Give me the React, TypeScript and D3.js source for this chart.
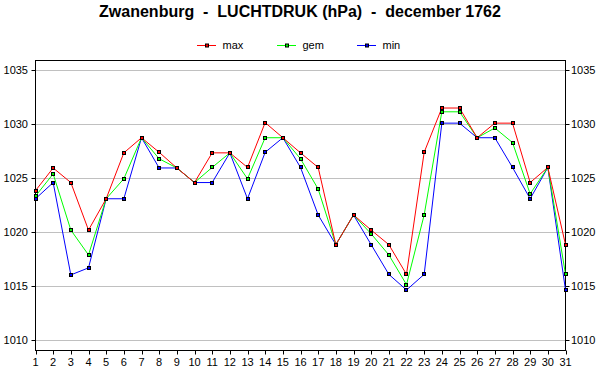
import React from "react";
import * as d3 from "d3";

const days = d3.range(1, 32);
const maxVals = [1023.85, 1025.95, 1024.6, 1020.2, 1023.1, 1027.35, 1028.75, 1027.4, 1025.95, 1024.6, 1027.35, 1027.35, 1026.0, 1030.15, 1028.75, 1027.35, 1026.0, 1018.85, 1021.6, 1020.2, 1018.85, 1016.1, 1027.4, 1031.5, 1031.5, 1028.75, 1030.1, 1030.1, 1024.6, 1026.0, 1018.85];
const gemVals = [1023.35, 1025.4, 1020.2, 1017.9, 1023.1, 1024.95, 1028.75, 1026.8, 1025.95, 1024.6, 1026.0, 1027.35, 1024.95, 1028.75, 1028.75, 1026.8, 1024.0, 1018.85, 1021.6, 1019.85, 1017.9, 1015.15, 1021.6, 1031.15, 1031.15, 1028.75, 1029.65, 1028.3, 1023.55, 1026.0, 1016.1];
const minVals = [1023.1, 1024.6, 1016.05, 1016.7, 1023.1, 1023.1, 1028.75, 1025.95, 1025.95, 1024.6, 1024.6, 1027.35, 1023.1, 1027.4, 1028.75, 1026.0, 1021.6, 1018.85, 1021.6, 1018.85, 1016.1, 1014.65, 1016.1, 1030.1, 1030.1, 1028.75, 1028.75, 1026.0, 1023.1, 1026.0, 1014.65];
const yTicks = [1010, 1015, 1020, 1025, 1030, 1035];
const seriesNames = ["max", "gem", "min"];
const seriesColors = ["#ff0000", "#00ff00", "#0000ff"];

const W = 600, H = 390;
const L = 35.5, R = 565.5, T = 60.5, B = 350.5;

export default function App() {
  const x = d3.scaleLinear().domain([1, 31]).range([L, R]);
  const y = d3.scaleLinear().domain([1009.05, 1035.9]).range([B, T]);
  const line = d3.line<number>().x((_, i) => x(days[i])).y((v) => y(v));
  const series = [
    { name: "min", vals: minVals, color: seriesColors[2] },
    { name: "gem", vals: gemVals, color: seriesColors[1] },
    { name: "max", vals: maxVals, color: seriesColors[0] },
  ];
  const legendX = [197, 277, 357];
  const font = "'Liberation Sans', Arial, sans-serif";
  return (
    <svg width={W} height={H} style={{ position: "absolute", left: 0, top: 0, background: "#fff" }} fontFamily={font}>
      <rect x={0} y={0} width={W} height={H} fill="#fff" />
      <text x={300} y={17} textAnchor="middle" fontSize={16} fontWeight="bold" fill="#000" style={{ whiteSpace: "pre" }}>
        {"Zwanenburg  -  LUCHTDRUK (hPa)  -  december 1762"}
      </text>
      {seriesNames.map((n, i) => (
        <g key={n}>
          <line x1={legendX[i]} x2={legendX[i] + 19} y1={45.5} y2={45.5} stroke={seriesColors[i]} strokeWidth={1} />
          <rect x={legendX[i] + 8.5} y={44} width={3} height={3} fill={seriesColors[i]} stroke="#000" strokeWidth={1} />
          <text x={legendX[i] + 25.5} y={48.5} fontSize={11} fill="#000">{n}</text>
        </g>
      ))}
      {yTicks.map((t) => (
        <g key={t}>
          <line x1={L} x2={R} y1={Math.round(y(t)) + 0.5} y2={Math.round(y(t)) + 0.5} stroke="#c0c0c0" strokeWidth={1} />
          <line x1={L - 4} x2={L} y1={Math.round(y(t)) + 0.5} y2={Math.round(y(t)) + 0.5} stroke="#000" />
          <line x1={R} x2={R + 4} y1={Math.round(y(t)) + 0.5} y2={Math.round(y(t)) + 0.5} stroke="#000" />
          <text x={28} y={y(t) + 4} textAnchor="end" fontSize={11} fill="#000">{t}</text>
          <text x={571} y={y(t) + 4} textAnchor="start" fontSize={11} fill="#000">{t}</text>
        </g>
      ))}
      {days.map((d) => (
        <g key={d}>
          <line x1={Math.round(x(d)) + 0.5} x2={Math.round(x(d)) + 0.5} y1={B} y2={B + 4} stroke="#000" />
          <text x={x(d)} y={366} textAnchor="middle" fontSize={11} fill="#000">{d}</text>
        </g>
      ))}
      <rect x={L} y={T} width={R - L} height={B - T} fill="none" stroke="#000" strokeWidth={1} />
      {series.map((s) => (
        <path key={s.name} d={line(s.vals) || ""} fill="none" stroke={s.color} strokeWidth={1} />
      ))}
      {series.map((s) => (
        <g key={s.name + "m"}>
          {s.vals.map((v, i) => (
            <rect key={i} x={Math.round(x(days[i])) - 1.5} y={Math.round(y(v)) - 1.5} width={3} height={3} fill={s.color} stroke="#000" strokeWidth={1} />
          ))}
        </g>
      ))}
    </svg>
  );
}
